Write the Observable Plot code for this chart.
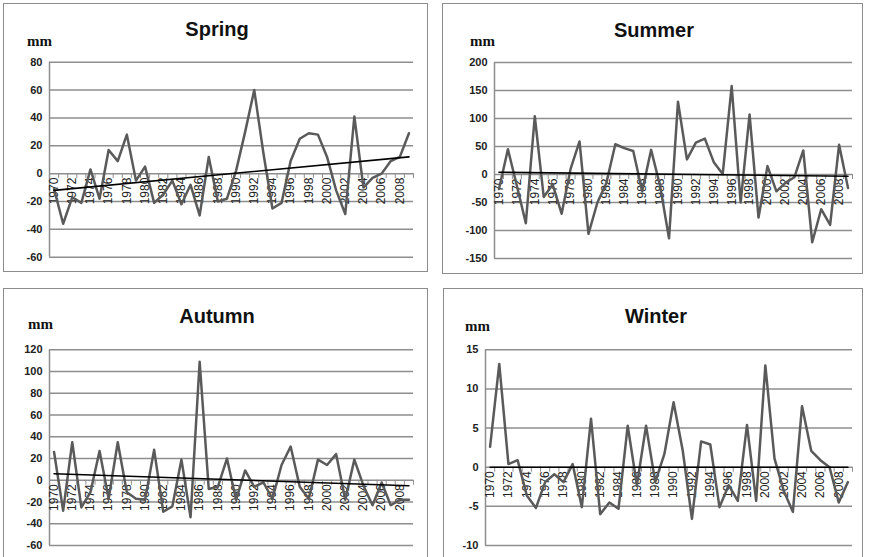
<!DOCTYPE html>
<html><head><meta charset="utf-8">
<script src="https://cdn.jsdelivr.net/npm/d3@7"></script>
<script src="https://cdn.jsdelivr.net/npm/@observablehq/plot@0.6"></script>
<style>
body{margin:0;background:#fff;}
#root{position:relative;width:871px;height:557px;overflow:hidden;background:#fff;}
.panel{position:absolute;box-sizing:border-box;border:1px solid #8c8c8c;background:#fff;}
.chart{position:absolute;}
.title{position:absolute;font:bold 20px/20px "Liberation Sans",Arial,sans-serif;color:#111;transform:translateX(-50%);white-space:nowrap;}
.unit{position:absolute;font:bold 15px/15px "Liberation Serif","Times New Roman",serif;color:#111;white-space:nowrap;}
</style></head><body><div id="root"></div>
<script>
// ---- data ----
const years = d3.range(1970, 2010);
const yearLabels = years.filter(y => y % 2 === 0);

const spring = [-11, -36, -17, -21, 3, -18, 17, 9, 28, -5,
                5, -21, -15, -5, -22, -8, -30, 12, -20, -18,
                2, 30, 60, 15, -25, -21, 9, 25, 29, 28,
                12, -12, -29, 41, -10, -3, 0, 9, 12, 29];
const summer = [-26, 45, -20, -87, 104, -40, -18, -70, 10, 59,
                -106, -50, -15, 54, 47, 42, -30, 44, -20, -114,
                130, 27, 57, 64, 22, 1, 158, -50, 107, -77,
                15, -30, -15, -5, 43, -121, -62, -90, 53, -24];
const autumn = [26, -28, 35, -25, -11, 27, -17, 35, -11, -17,
                -18, 28, -29, -24, 19, -34, 109, -8, -6, 20,
                -18, 9, -6, -2, -17, 14, 31, -6, -17, 19,
                14, 24, -18, 19, -5, -23, -2, -23, -18, -18];
const winter = [2.6, 13.2, 0.4, 0.9, -3.6, -5.2, -1.9, -0.9, -1.9, 0.4,
                -5.1, 6.2, -6.0, -4.5, -5.3, 5.3, -2.3, 5.3, -1.9, 1.7,
                8.3, 2.1, -6.6, 3.3, 2.9, -5.1, -2.3, -4.3, 5.4, -4.3,
                13.0, 1.1, -3.0, -5.7, 7.8, 2.1, 0.9, 0, -4.5, -1.9];

// trend line values at first and last year
const springTrend = [-12, 12];
const summerTrend = [4, -3];
const autumnTrend = [6, -5];
const winterTrend = [0, 0];

const springTicks = [-60, -40, -20, 0, 20, 40, 60, 80];
const summerTicks = [-150, -100, -50, 0, 50, 100, 150, 200];
const autumnTicks = [-60, -40, -20, 0, 20, 40, 60, 80, 100, 120];
const winterTicks = [-10, -5, 0, 5, 10, 15];

const titles = ["Spring", "Summer", "Autumn", "Winter"];
const unitLabel = "mm";

// ---- layout ----
const panels = [
  {name: titles[0], values: spring, trend: springTrend, ticks: springTicks,
   box: {l: 3, t: 3, w: 425, h: 269}, plot: {x0: 49, x1: 413, y0: 61.7, y1: 256.7},
   title: {cx: 217, base: 36}, unit: {x: 27, base: 47}},
  {name: titles[1], values: summer, trend: summerTrend, ticks: summerTicks,
   box: {l: 442, t: 3, w: 421, h: 271}, plot: {x0: 494, x1: 852, y0: 62, y1: 258},
   title: {cx: 654, base: 37}, unit: {x: 470, base: 47}},
  {name: titles[2], values: autumn, trend: autumnTrend, ticks: autumnTicks,
   box: {l: 3, t: 288, w: 425, h: 280}, plot: {x0: 49, x1: 413, y0: 349.3, y1: 545},
   title: {cx: 217, base: 323}, unit: {x: 28, base: 330}},
  {name: titles[3], values: winter, trend: winterTrend, ticks: winterTicks,
   box: {l: 443, t: 288, w: 420, h: 280}, plot: {x0: 485, x1: 852, y0: 349.3, y1: 545},
   title: {cx: 656, base: 323}, unit: {x: 465, base: 332}}
];

const root = document.getElementById("root");
const grid = "#8e8e8e";

for (const p of panels) {
  const {box, plot} = p;
  const div = document.createElement("div");
  div.className = "panel";
  Object.assign(div.style, {left: box.l + "px", top: box.t + "px", width: box.w + "px", height: box.h + "px"});
  root.appendChild(div);

  const data = years.map((y, i) => ({year: y, value: p.values[i]}));
  const trendData = [
    {year: years[0], value: p.trend[0]},
    {year: years[years.length - 1], value: p.trend[1]}
  ];
  const bounds = d3.range(years.length + 1).map(i => years[0] - 0.5 + i);
  const xmin = years[0] - 0.5, xmax = years[years.length - 1] + 0.5;

  const chart = Plot.plot({
    width: box.w, height: box.h,
    marginLeft: plot.x0 - box.l,
    marginRight: box.l + box.w - plot.x1,
    marginTop: plot.y0 - box.t,
    marginBottom: box.t + box.h - plot.y1,
    x: {domain: [xmin, xmax], axis: null},
    y: {domain: [p.ticks[0], p.ticks[p.ticks.length - 1]], axis: null},
    style: {fontFamily: '"Liberation Sans", Arial, sans-serif', background: "transparent", color: "#222", overflow: "visible"},
    marks: [
      Plot.gridY(p.ticks, {stroke: grid, strokeOpacity: 1, strokeWidth: 1.5}),
      Plot.ruleX([xmin], {stroke: grid, strokeWidth: 1.5}),
      Plot.ruleX(bounds, {y1: 0, y2: 0, insetBottom: -5, stroke: grid, strokeWidth: 1}),
      Plot.axisY(p.ticks, {label: null, tickSize: 0, tickPadding: 7, tickFormat: d => String(d), fontSize: 11, fontWeight: "bold", fill: "#222"}),
      Plot.text(yearLabels, {x: d => d, y: 0, text: d => String(d), rotate: -90, textAnchor: "end", dy: 4, fontSize: 12, fill: "#222"}),
      Plot.line(data, {x: "year", y: "value", stroke: "#5a5a5a", strokeWidth: 2.5}),
      Plot.line(trendData, {x: "year", y: "value", stroke: "#000", strokeWidth: 1.6})
    ]
  });
  chart.classList.add("chart");
  Object.assign(chart.style, {left: box.l + "px", top: box.t + "px"});
  root.appendChild(chart);

  const t = document.createElement("div");
  t.className = "title";
  t.textContent = p.name;
  Object.assign(t.style, {left: p.title.cx + "px", top: (p.title.base - 17) + "px"});
  root.appendChild(t);

  const u = document.createElement("div");
  u.className = "unit";
  u.textContent = unitLabel;
  Object.assign(u.style, {left: p.unit.x + "px", top: (p.unit.base - 12.6) + "px"});
  root.appendChild(u);
}
</script>
</body></html>
